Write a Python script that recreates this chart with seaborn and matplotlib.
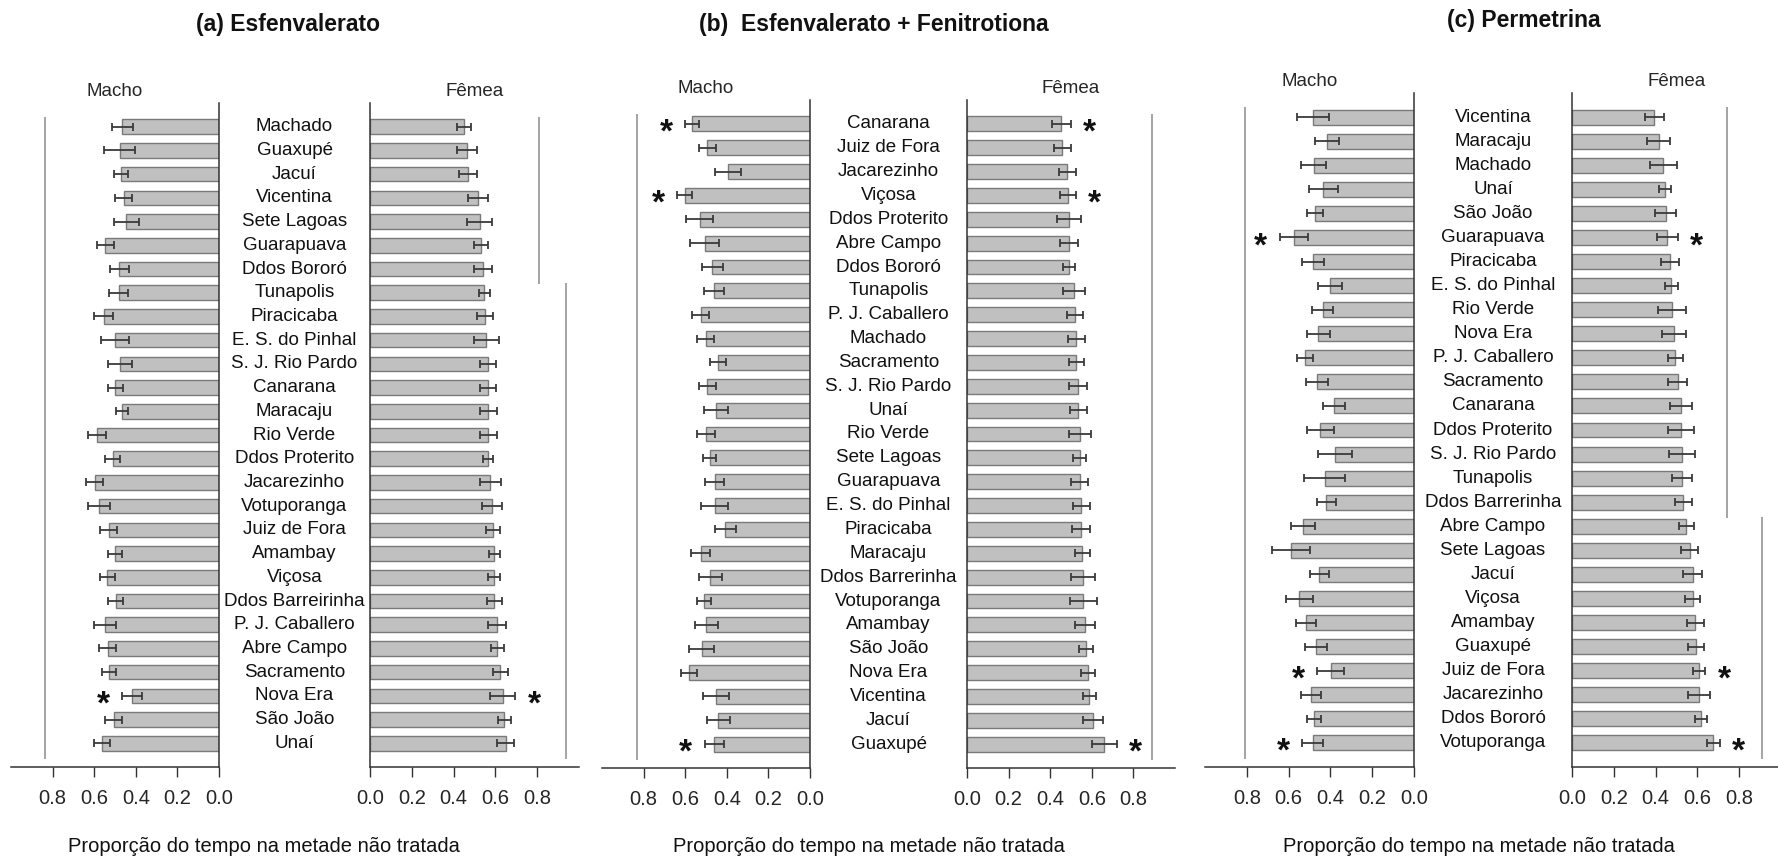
import matplotlib
matplotlib.use('Agg')
import matplotlib.pyplot as plt
import numpy as np
import pandas as pd
import seaborn as sns

# (a) Esfenvalerato
popsA = ['Machado', 'Guaxupé', 'Jacuí', 'Vicentina', 'Sete Lagoas', 'Guarapuava', 'Ddos Bororó',
         'Tunapolis', 'Piracicaba', 'E. S. do Pinhal', 'S. J. Rio Pardo', 'Canarana', 'Maracaju',
         'Rio Verde', 'Ddos Proterito', 'Jacarezinho', 'Votuporanga', 'Juiz de Fora', 'Amambay',
         'Viçosa', 'Ddos Barreirinha', 'P. J. Caballero', 'Abre Campo', 'Sacramento', 'Nova Era',
         'São João', 'Unaí']
maleA = [0.464, 0.478, 0.472, 0.459, 0.446, 0.546, 0.480, 0.483, 0.554, 0.500, 0.474, 0.498, 0.466,
         0.586, 0.512, 0.598, 0.576, 0.531, 0.500, 0.538, 0.496, 0.547, 0.536, 0.530, 0.418, 0.507, 0.563]
maleErrA = [0.050, 0.074, 0.034, 0.042, 0.061, 0.042, 0.046, 0.044, 0.046, 0.066, 0.058, 0.035, 0.030,
            0.043, 0.036, 0.042, 0.053, 0.043, 0.036, 0.036, 0.036, 0.054, 0.040, 0.034, 0.046, 0.042, 0.040]
femaleA = [0.448, 0.464, 0.470, 0.517, 0.526, 0.531, 0.541, 0.547, 0.550, 0.557, 0.563, 0.566, 0.566,
           0.566, 0.566, 0.576, 0.584, 0.589, 0.594, 0.594, 0.594, 0.606, 0.610, 0.624, 0.634, 0.643, 0.650]
femaleErrA = [0.034, 0.050, 0.042, 0.046, 0.060, 0.032, 0.043, 0.026, 0.040, 0.060, 0.038, 0.038, 0.042,
              0.040, 0.023, 0.052, 0.047, 0.035, 0.026, 0.030, 0.036, 0.043, 0.031, 0.037, 0.062, 0.031, 0.041]
starsMaleA = ['Nova Era']
starsFemaleA = ['Nova Era']

# (b) Esfenvalerato + Fenitrotiona
popsB = ['Canarana', 'Juiz de Fora', 'Jacarezinho', 'Viçosa', 'Ddos Proterito', 'Abre Campo',
         'Ddos Bororó', 'Tunapolis', 'P. J. Caballero', 'Machado', 'Sacramento', 'S. J. Rio Pardo',
         'Unaí', 'Rio Verde', 'Sete Lagoas', 'Guarapuava', 'E. S. do Pinhal', 'Piracicaba', 'Maracaju',
         'Ddos Barrerinha', 'Votuporanga', 'Amambay', 'São João', 'Nova Era', 'Vicentina', 'Jacuí',
         'Guaxupé']
maleB = [0.566, 0.493, 0.395, 0.602, 0.531, 0.507, 0.469, 0.462, 0.526, 0.501, 0.443, 0.493, 0.453,
         0.501, 0.483, 0.459, 0.459, 0.408, 0.526, 0.480, 0.509, 0.498, 0.520, 0.582, 0.451, 0.440, 0.461]
maleErrB = [0.033, 0.042, 0.064, 0.037, 0.066, 0.070, 0.050, 0.050, 0.042, 0.040, 0.040, 0.042, 0.058,
            0.042, 0.033, 0.045, 0.066, 0.050, 0.046, 0.056, 0.035, 0.057, 0.060, 0.038, 0.062, 0.055, 0.046]
femaleB = [0.453, 0.459, 0.482, 0.485, 0.490, 0.490, 0.491, 0.514, 0.520, 0.525, 0.526, 0.533, 0.536,
           0.541, 0.541, 0.541, 0.549, 0.547, 0.555, 0.558, 0.560, 0.566, 0.571, 0.581, 0.587, 0.606, 0.661]
femaleErrB = [0.045, 0.042, 0.042, 0.037, 0.056, 0.045, 0.030, 0.051, 0.039, 0.040, 0.038, 0.045, 0.040,
              0.053, 0.030, 0.039, 0.040, 0.043, 0.034, 0.059, 0.065, 0.049, 0.034, 0.035, 0.031, 0.050, 0.060]
starsMaleB = ['Canarana', 'Viçosa', 'Guaxupé']
starsFemaleB = ['Canarana', 'Viçosa', 'Guaxupé']

# (c) Permetrina
popsC = ['Vicentina', 'Maracaju', 'Machado', 'Unaí', 'São João', 'Guarapuava', 'Piracicaba',
         'E. S. do Pinhal', 'Rio Verde', 'Nova Era', 'P. J. Caballero', 'Sacramento', 'Canarana',
         'Ddos Proterito', 'S. J. Rio Pardo', 'Tunapolis', 'Ddos Barrerinha', 'Abre Campo', 'Sete Lagoas',
         'Jacuí', 'Viçosa', 'Amambay', 'Guaxupé', 'Juiz de Fora', 'Jacarezinho', 'Ddos Bororó',
         'Votuporanga']
maleC = [0.485, 0.415, 0.480, 0.434, 0.475, 0.574, 0.485, 0.400, 0.437, 0.458, 0.522, 0.464, 0.383,
         0.448, 0.378, 0.426, 0.419, 0.531, 0.589, 0.453, 0.549, 0.517, 0.469, 0.399, 0.493, 0.478, 0.485]
maleErrC = [0.077, 0.058, 0.061, 0.069, 0.039, 0.069, 0.052, 0.057, 0.049, 0.055, 0.038, 0.054, 0.053,
            0.063, 0.081, 0.098, 0.045, 0.056, 0.090, 0.046, 0.064, 0.046, 0.053, 0.063, 0.050, 0.033, 0.049]
femaleC = [0.394, 0.415, 0.437, 0.445, 0.448, 0.456, 0.470, 0.474, 0.477, 0.490, 0.494, 0.506, 0.522,
           0.522, 0.526, 0.526, 0.533, 0.547, 0.563, 0.577, 0.577, 0.590, 0.593, 0.608, 0.609, 0.616, 0.676]
femaleErrC = [0.044, 0.055, 0.065, 0.028, 0.051, 0.049, 0.043, 0.031, 0.067, 0.057, 0.037, 0.045, 0.052,
              0.061, 0.061, 0.046, 0.039, 0.035, 0.041, 0.047, 0.037, 0.041, 0.040, 0.030, 0.053, 0.029, 0.030]
starsMaleC = ['Guarapuava', 'Juiz de Fora', 'Votuporanga']
starsFemaleC = ['Guarapuava', 'Juiz de Fora', 'Votuporanga']

# grouping lines: (x level, first row, last row)
groupsMale = [[(0.835, 0, 26)], [(0.83, 0, 26)], [(0.81, 0, 26)]]
groupsFemale = [[(0.81, 0, 6), (0.94, 7, 26)], [(0.89, 0, 26)], [(0.74, 0, 16), (0.91, 17, 26)]]

titles = ['(a) Esfenvalerato', '(b)  Esfenvalerato + Fenitrotiona', '(c) Permetrina']
xlabel = 'Proporção do tempo na metade não tratada'
ticks = [0.0, 0.2, 0.4, 0.6, 0.8]

sns.set_theme(style='white')
plt.rcParams['font.family'] = ['Liberation Sans', 'DejaVu Sans']

W, H = 1778, 858
fig = plt.figure(figsize=(W / 100, H / 100), dpi=100)

# pixel layout: male axes x-range, female axes x-range, top, bottom
layout = [((11, 219), (370, 579), 103, 767),
          ((602, 810), (967, 1175), 100, 768),
          ((1205, 1414), (1572, 1781), 93, 767)]
titlePos = [(288, 24), (874, 24), (1524, 21)]
xlabelPos = [(264, 846), (869, 846), (1479, 846)]

BAR = '#c0c0c0'
EDGE = '#7a7a7a'
ERR = '#3a3a3a'


def make_ax(x0, x1, top, bottom):
    return fig.add_axes([x0 / W, 1 - bottom / H, (x1 - x0) / W, (bottom - top) / H])


def draw_side(ax, names, means, errs, stars, groups, male):
    df = pd.DataFrame({'pop': names, 'val': means})
    sns.barplot(data=df, x='val', y='pop', orient='h', color=BAR, saturation=1,
                edgecolor=EDGE, linewidth=1.0, width=0.62, errorbar=None, ax=ax)
    ax.errorbar(means, np.arange(len(names)), xerr=errs, fmt='none', ecolor=ERR,
                elinewidth=1.3, capsize=3.2, capthick=1.3)
    for i, (n, m, e) in enumerate(zip(names, means, errs)):
        if n in stars:
            ax.text(m + e + 0.09, i + 0.38, '*', ha='center', va='center',
                    fontsize=24, fontweight='bold', color='#111111')
    for gx, g0, g1 in groups:
        ax.vlines(gx, g0 - 0.4, g1 + 0.65, color='#8c8c8c', lw=1.1)
    ax.set_ylim(27, -1)
    ax.set_yticks([])
    ax.set_ylabel('')
    ax.set_xlabel('')
    ax.set_xticks(ticks)
    ax.set_xticklabels([f'{t:.1f}' for t in ticks])
    if male:
        ax.set_xlim(1.0, 0)
        ax.spines['left'].set_visible(False)
        ax.set_title('Macho', fontsize=13.5, pad=5)
    else:
        ax.set_xlim(0, 1.0)
        ax.spines['right'].set_visible(False)
        ax.set_title('Fêmea', fontsize=13.5, pad=5)
    ax.spines['top'].set_visible(False)
    for s in ['left', 'right', 'bottom']:
        ax.spines[s].set_color('#333333')
        ax.spines[s].set_linewidth(1.1)
    ax.tick_params(axis='x', direction='out', length=7, width=1.0, color='#333333',
                   pad=9, labelsize=14.5, bottom=True)
    ax.patch.set_alpha(0)


panels = [(popsA, maleA, maleErrA, femaleA, femaleErrA, starsMaleA, starsFemaleA),
          (popsB, maleB, maleErrB, femaleB, femaleErrB, starsMaleB, starsFemaleB),
          (popsC, maleC, maleErrC, femaleC, femaleErrC, starsMaleC, starsFemaleC)]

for k, (pops, mm, me, fm, fe, sm, sf) in enumerate(panels):
    (mx0, mx1), (fx0, fx1), top, bottom = layout[k]
    axm = make_ax(mx0, mx1, top, bottom)
    axf = make_ax(fx0, fx1, top, bottom)
    draw_side(axm, pops, mm, me, sm, groupsMale[k], True)
    draw_side(axf, pops, fm, fe, sf, groupsFemale[k], False)
    # population names centred between the two halves
    cx = ((mx1 + fx0) / 2 - fx0) / (fx1 - fx0)
    for i, n in enumerate(pops):
        axf.text(cx, i, n, transform=axf.get_yaxis_transform(), ha='center', va='center',
                 fontsize=13.5, color='#111111', clip_on=False)
    tx, ty = titlePos[k]
    fig.text(tx / W, 1 - ty / H, titles[k], ha='center', va='center',
             fontsize=16.5, fontweight='bold', color='#111111')
    lx, ly = xlabelPos[k]
    fig.text(lx / W, 1 - ly / H, xlabel, ha='center', va='center', fontsize=14.5, color='#111111')

fig.savefig('out.png', dpi=100)
